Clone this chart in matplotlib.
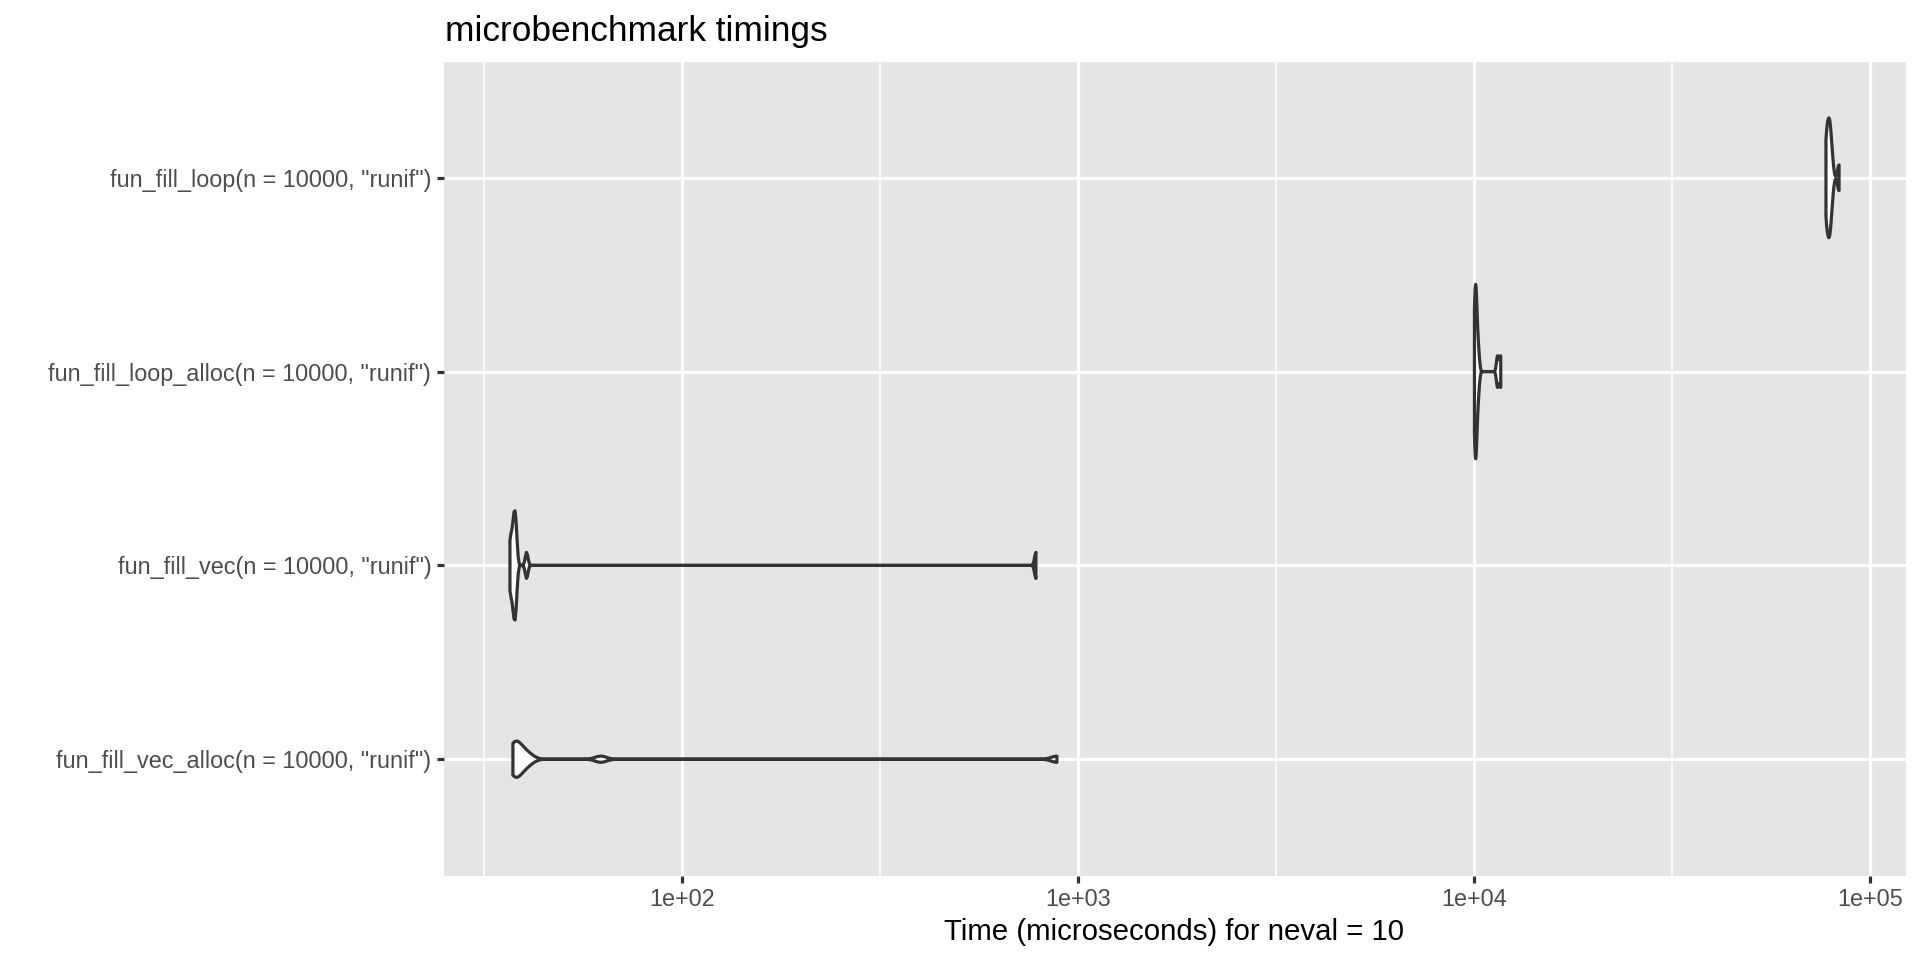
import numpy as np
import matplotlib
matplotlib.use("Agg")
import matplotlib.pyplot as plt
from matplotlib.ticker import FixedLocator, FixedFormatter, NullFormatter

# ---- data (microseconds, neval = 10 per expression) ----
expressions = [
    'fun_fill_vec_alloc(n = 10000, "runif")',
    'fun_fill_vec(n = 10000, "runif")',
    'fun_fill_loop_alloc(n = 10000, "runif")',
    'fun_fill_loop(n = 10000, "runif")',
]
time_vec_alloc = [37.41, 37.54, 37.71, 38.02, 38.46, 39.08, 39.99, 41.21, 62.37, 885.1]
time_vec = [36.77, 36.98, 37.37, 37.54, 37.71, 37.89, 38.02, 38.15, 40.51, 783.4]
time_loop_alloc = [10036, 10062, 10089, 10116, 10118, 10143, 10196, 10278, 11482, 11695]
time_loop = [77527, 77781, 78122, 78551, 78895, 79155, 79415, 79850, 80464, 83652]
x_breaks = [1e2, 1e3, 1e4, 1e5]
x_labels = ["1e+02", "1e+03", "1e+04", "1e+05"]
x_minor = [10 ** 1.5, 10 ** 2.5, 10 ** 3.5, 10 ** 4.5]
title = "microbenchmark timings"
x_title = "Time (microseconds) for neval = 10"

groups = [time_vec_alloc, time_vec, time_loop_alloc, time_loop]


def bw_nrd0(x):
    hi = np.std(x, ddof=1)
    q75, q25 = np.percentile(x, [75, 25])
    lo = min(hi, (q75 - q25) / 1.34)
    if not lo:
        lo = hi
    return 0.9 * lo * len(x) ** (-0.2)


def ydensity(x):
    x = np.asarray(x, float)
    bw = bw_nrd0(x)
    grid = np.linspace(x.min(), x.max(), 512)
    z = (grid[:, None] - x[None, :]) / bw
    dens = np.exp(-0.5 * z ** 2).sum(axis=1) / (len(x) * bw * np.sqrt(2 * np.pi))
    return grid, dens, bw


dens_list = [ydensity(np.log10(g)) for g in groups]
max_d = max(d.max() for _, d, _ in dens_list)

W, H = 1920, 960
fig = plt.figure(figsize=(W / 100, H / 100), dpi=100)
fig.patch.set_facecolor("white")
pl, pr, pt, pb = 443.5, 1905.5, 61.5, 875.5
ax = fig.add_axes([pl / W, 1 - pb / H, (pr - pl) / W, (pb - pt) / H])
ax.set_facecolor("#E5E5E5")

all_log = np.log10(np.concatenate([np.asarray(g, float) for g in groups]))
lo, hi = all_log.min(), all_log.max()
span = hi - lo
ax.set_xscale("log")
ax.set_xlim(10 ** (lo - 0.05 * span), 10 ** (hi + 0.05 * span))
ax.set_ylim(0.4, len(expressions) + 0.6)

ax.xaxis.set_major_locator(FixedLocator(x_breaks))
ax.xaxis.set_major_formatter(FixedFormatter(x_labels))
ax.xaxis.set_minor_locator(FixedLocator(x_minor))
ax.xaxis.set_minor_formatter(NullFormatter())
ax.set_yticks(range(1, len(expressions) + 1))
ax.set_yticklabels(expressions)

ax.grid(True, which="major", color="white", linewidth=2.3)
ax.grid(True, which="minor", axis="x", color="white", linewidth=1.15)
ax.set_axisbelow(True)
for s in ax.spines.values():
    s.set_visible(False)

ax.tick_params(axis="both", which="major", length=5.3, width=2.3, color="#333333",
               labelcolor="#4D4D4D", labelsize=16.8, direction="out")
ax.tick_params(axis="x", which="major", pad=3.5)
ax.tick_params(axis="y", which="major", pad=3.5)
ax.tick_params(axis="x", which="minor", length=0)
for lab in ax.get_xticklabels() + ax.get_yticklabels():
    lab.set_fontfamily(["Liberation Sans", "DejaVu Sans"])

for i, (grid, dens, bw) in enumerate(dens_list):
    pos = i + 1
    half = 0.9 * dens / max_d / 2
    xs = np.concatenate([10 ** grid, 10 ** grid[::-1]])
    ys = np.concatenate([pos + half, pos - half[::-1]])
    ax.fill(xs, ys, facecolor="white", edgecolor="#333333", linewidth=2.3,
            joinstyle="round", zorder=3)

fig.text(445 / W, 1 - 41.5 / H, title, ha="left", va="baseline", fontsize=25.4,
         color="black", family=["Liberation Sans", "DejaVu Sans"])
fig.text((pl + pr) / 2 / W, 1 - 940 / H, x_title, ha="center", va="baseline",
         fontsize=21.2, color="black", family=["Liberation Sans", "DejaVu Sans"])

fig.savefig("out.png", dpi=100)
